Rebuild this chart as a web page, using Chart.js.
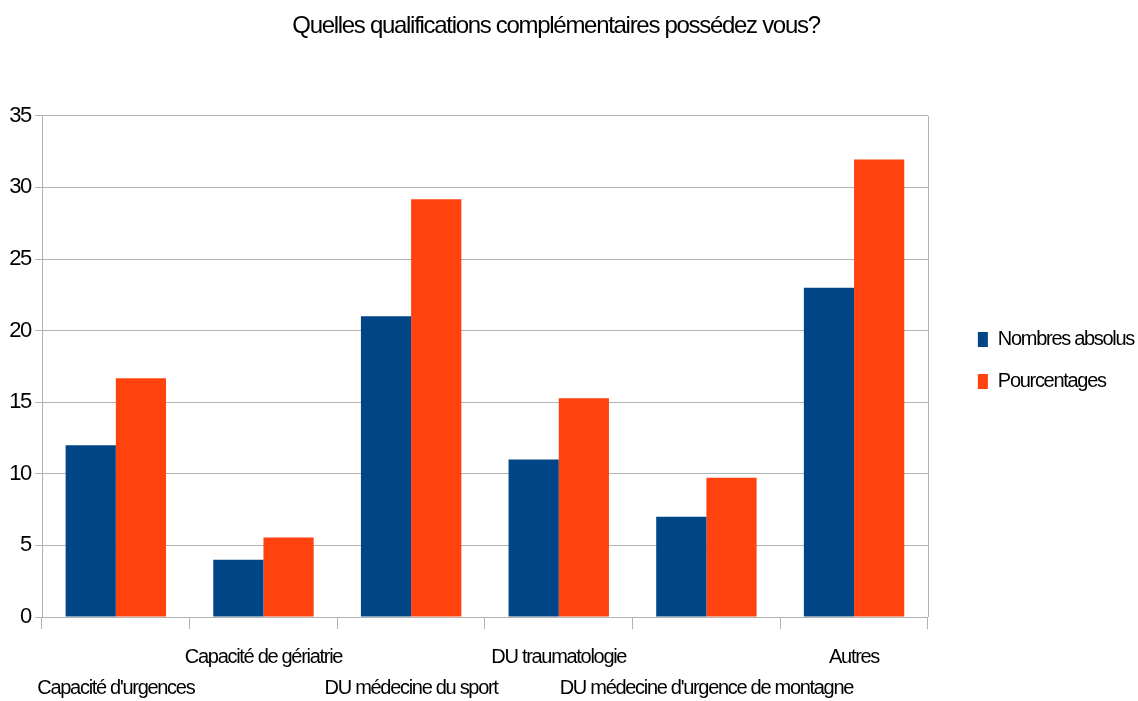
<!DOCTYPE html>
<html>
<head>
<meta charset="utf-8">
<script src="https://cdn.jsdelivr.net/npm/chart.js@4.4.1/dist/chart.umd.min.js"></script>
<style>
html,body{margin:0;padding:0;background:#fff;}
#wrap{width:1138px;height:701px;}
</style>
</head>
<body>
<div id="wrap"><canvas id="c" width="1138" height="701"></canvas></div>
<script>
const categories = ["Capacité d'urgences", "Capacité de gériatrie", "DU médecine du sport", "DU traumatologie", "DU médecine d'urgence de montagne", "Autres"];
const nombres = [12, 4, 21, 11, 7, 23];
const pourcentages = [16.67, 5.56, 29.17, 15.28, 9.72, 31.94];
const seriesNames = ["Nombres absolus", "Pourcentages"];
const titleText = "Quelles qualifications complémentaires possédez vous?";

const FONT = "'Liberation Sans', Arial, sans-serif";
const LS = '-1.3px';

const spacingPlugin = {
  id: 'spacing',
  beforeInit(chart){ chart.ctx.letterSpacing = LS; },
  beforeUpdate(chart){ chart.ctx.letterSpacing = LS; },
  beforeLayout(chart){
    chart.ctx.letterSpacing = LS;
    const lg = chart.legend;
    if (lg && !lg._patched) {
      const orig = lg.fit;
      lg.fit = function(){ orig.apply(this, arguments); this.width += 22; };
      lg._patched = true;
    }
  },
  afterLayout(chart){
    const lg = chart.legend;
    if (lg) { lg.left += 28; lg.right += 28; lg.top += 7; lg.bottom += 7; }
    const tb = chart.titleBlock;
    if (tb) { tb.left -= 13; tb.right -= 13; }
  },
  beforeDraw(chart){ chart.ctx.letterSpacing = LS; }
};

new Chart(document.getElementById('c'), {
  type: 'bar',
  data: {
    labels: categories,
    datasets: [
      { label: seriesNames[0], data: nombres, backgroundColor: '#004586', borderWidth: 0 },
      { label: seriesNames[1], data: pourcentages, backgroundColor: '#ff420e', borderWidth: 0 }
    ]
  },
  options: {
    responsive: false,
    animation: false,
    devicePixelRatio: 1,
    layout: { padding: { left: 0, right: 0, top: 6, bottom: 0 } },
    datasets: { bar: { categoryPercentage: 0.68, barPercentage: 1.0 } },
    plugins: {
      title: {
        display: true,
        text: titleText,
        color: '#000',
        font: { family: FONT, size: 24, weight: 'normal' },
        padding: { top: 6, bottom: 75 }
      },
      legend: {
        position: 'right',
        labels: {
          color: '#000',
          font: { family: FONT, size: 20 },
          boxWidth: 10,
          boxHeight: 15,
          padding: 22
        }
      },
      tooltip: { enabled: false }
    },
    scales: {
      x: {
        offset: true,
        afterFit(scale){ scale.height = 84; },
        grid: { display: true, drawOnChartArea: false, offset: true, tickLength: 12, color: '#b3b3b3' },
        border: { color: '#b3b3b3' },
        ticks: {
          color: '#000',
          font: { family: FONT, size: 20, lineHeight: 1.55 },
          maxRotation: 0,
          minRotation: 0,
          autoSkip: false,
          padding: 13,
          callback: function(v, i){ return i % 2 === 0 ? ['', categories[i]] : [categories[i], '']; }
        }
      },
      y: {
        min: 0, max: 35,
        afterFit(scale){ scale.width = 42; },
        ticks: { stepSize: 5, color: '#000', font: { family: FONT, size: 22 }, padding: 4 },
        grid: { color: '#b3b3b3', tickLength: 7 },
        border: { color: '#b3b3b3' }
      }
    }
  },
  plugins: [spacingPlugin, {
    id: 'rightBorder',
    afterDraw(chart){
      const a = chart.chartArea, ctx = chart.ctx;
      ctx.save(); ctx.strokeStyle = '#b3b3b3'; ctx.lineWidth = 1;
      ctx.beginPath(); ctx.moveTo(Math.round(a.right)+0.5, a.top); ctx.lineTo(Math.round(a.right)+0.5, a.bottom); ctx.stroke();
      ctx.restore();
    }
  }]
});
</script>
</body>
</html>
